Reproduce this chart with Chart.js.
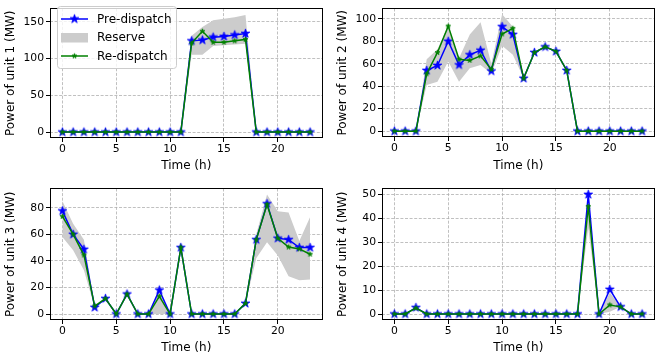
<!DOCTYPE html>
<html>
<head>
<meta charset="utf-8">
<script src="https://cdn.jsdelivr.net/npm/chart.js@4"></script>
<style>
html,body{margin:0;padding:0;background:#fff;overflow:hidden;width:655px;height:360px;}
canvas{position:absolute;}
</style>
</head>
<body>
<canvas id="c1" width="328" height="180" style="left:0;top:0;width:328px;height:180px"></canvas>
<canvas id="c2" width="332" height="180" style="left:328px;top:0;width:332px;height:180px"></canvas>
<canvas id="c3" width="328" height="180" style="left:0;top:180px;width:328px;height:180px"></canvas>
<canvas id="c4" width="332" height="180" style="left:328px;top:180px;width:332px;height:180px"></canvas>
<script>
// ---- data ----
const hours = [0,1,2,3,4,5,6,7,8,9,10,11,12,13,14,15,16,17,18,19,20,21,22,23];
const xTickValues = [0,5,10,15,20];
const seriesNames = ['Pre-dispatch','Reserve','Re-dispatch'];
const xTitle = 'Time (h)';

const unit1Pre   = [0,0,0,0,0,0,0,0,0,0,0,0,124,125,129,130,132,134,0,0,0,0,0,0];
const unit1Re    = [0,0,0,0,0,0,0,0,0,0,0,0,121,137,122,122,124,126,0,0,0,0,0,0];
const unit1ResLo = [0,0,0,0,0,0,0,0,0,0,0,0,105,105,117,118,119,120,0,0,0,0,0,0];
const unit1ResHi = [0,0,0,0,0,0,0,0,0,0,0,0,131,143,152,154,156,159,0,0,0,0,0,0];
const unit1Ticks = [0,50,100,150];

const unit2Pre   = [0,0,0,54,58.5,80,59,68,72,53.5,93,86,47,70,75,71,54,0,0,0,0,0,0,0];
const unit2Re    = [0,0,0,51,70,93.5,64,63,67,55,86.5,91.5,47,70,75,71,54,0,0,0,0,0,0,0];
const unit2ResLo = [0,0,0,41,44,62,44,56,59,51,76,68,47,70,75,71,54,0,0,0,0,0,0,0];
const unit2ResHi = [0,0,0,64,73,94,65,86,97,60,104,93,47,70,75,71,54,0,0,0,0,0,0,0];
const unit2Ticks = [0,20,40,60,80,100];

const unit3Pre   = [77.6,60,48.7,5,11.6,0,15,0,0,18,0,50,0,0,0,0,0,8,56,83,57,56,50,50];
const unit3Re    = [73.5,60,44.4,6,11.6,0,15,0,0,13.3,0,50,0,0,0,0,0,8,56,82.5,57,50.4,49,45];
const unit3ResLo = [58,48,33,5,11.6,0,15,0,0,0,0,50,0,0,0,0,0,8,42,54,44,28.4,25.5,26];
const unit3ResHi = [85,68,56,6,11.6,0,15,0,0,17,0,50,0,0,0,0,0,8,60,90,77.3,76.4,55,73];
const unit3Ticks = [0,20,40,60,80];

const unit4Pre   = [0,0,2.7,0,0,0,0,0,0,0,0,0,0,0,0,0,0,0,50,0,10.3,3,0,0];
const unit4Re    = [0,0,2.5,0,0,0,0,0,0,0,0,0,0,0,0,0,0,0,45,0,3.8,3,0,0];
const unit4ResLo = [0,0,2.5,0,0,0,0,0,0,0,0,0,0,0,0,0,0,0,36,0,1,3,0,0];
const unit4ResHi = [0,0,2.7,0,0,0,0,0,0,0,0,0,0,0,0,0,0,0,46,0,9,3,0,0];
const unit4Ticks = [0,10,20,30,40,50];

// ---- styling helpers ----
const FONT = 'DejaVu Sans';
const BLUE = '#0000ff', GREEN = '#008000', GREY = '#cccccc';

function starImage(color, r) {
  const size = Math.ceil(r * 2 + 3);
  const c = document.createElement('canvas');
  c.width = size; c.height = size;
  const ctx = c.getContext('2d');
  const cx = size / 2, cy = size / 2, ri = r * 0.382;
  ctx.beginPath();
  for (let i = 0; i < 10; i++) {
    const rad = i % 2 === 0 ? r : ri;
    const a = -Math.PI / 2 + i * Math.PI / 5;
    const px = cx + rad * Math.cos(a), py = cy + rad * Math.sin(a);
    i === 0 ? ctx.moveTo(px, py) : ctx.lineTo(px, py);
  }
  ctx.closePath();
  ctx.fillStyle = color; ctx.fill();
  ctx.strokeStyle = color; ctx.lineWidth = 0.8; ctx.stroke();
  return c;
}
const blueStar = starImage(BLUE, 4.6);
const greenStar = starImage(GREEN, 2.6);

const framePlugin = {
  id: 'frame',
  afterDraw(chart) {
    const a = chart.chartArea, ctx = chart.ctx;
    ctx.save();
    ctx.strokeStyle = '#000'; ctx.lineWidth = 1;
    ctx.strokeRect(Math.round(a.left) + 0.5, Math.round(a.top) + 0.5,
                   Math.round(a.right - a.left) - 1, Math.round(a.bottom - a.top) - 1);
    ctx.restore();
  }
};

const legendPlugin = {
  id: 'mplLegend',
  afterDraw(chart, args, opts) {
    if (!opts || !opts.show) return;
    const ctx = chart.ctx;
    ctx.save();
    const bx = 57.5, by = 6.5, bw = 119, bh = 62, r = 3;
    ctx.beginPath();
    ctx.moveTo(bx + r, by); ctx.lineTo(bx + bw - r, by); ctx.arcTo(bx + bw, by, bx + bw, by + r, r);
    ctx.lineTo(bx + bw, by + bh - r); ctx.arcTo(bx + bw, by + bh, bx + bw - r, by + bh, r);
    ctx.lineTo(bx + r, by + bh); ctx.arcTo(bx, by + bh, bx, by + bh - r, r);
    ctx.lineTo(bx, by + r); ctx.arcTo(bx, by, bx + r, by, r);
    ctx.closePath();
    ctx.fillStyle = 'rgba(255,255,255,0.8)'; ctx.fill();
    ctx.strokeStyle = '#cccccc'; ctx.lineWidth = 1; ctx.stroke();
    const x0 = 61, x1 = 88, xm = (x0 + x1) / 2;
    const rows = [19, 37.5, 56];
    // row 1: pre-dispatch
    ctx.strokeStyle = BLUE; ctx.lineWidth = 1.5;
    ctx.beginPath(); ctx.moveTo(x0, rows[0]); ctx.lineTo(x1, rows[0]); ctx.stroke();
    ctx.drawImage(blueStar, xm - blueStar.width / 2, rows[0] - blueStar.height / 2);
    // row 2: reserve patch
    ctx.fillStyle = GREY; ctx.fillRect(x0, rows[1] - 4.5, x1 - x0, 9.5);
    // row 3: re-dispatch
    ctx.strokeStyle = GREEN; ctx.lineWidth = 1.5;
    ctx.beginPath(); ctx.moveTo(x0, rows[2]); ctx.lineTo(x1, rows[2]); ctx.stroke();
    ctx.drawImage(greenStar, xm - greenStar.width / 2, rows[2] - greenStar.height / 2);
    ctx.fillStyle = '#000'; ctx.font = '12px "' + FONT + '"'; ctx.textBaseline = 'middle';
    seriesNames.forEach((t, i) => ctx.fillText(t, 97, rows[i] + 0.5));
    ctx.restore();
  }
};

function pts(arr) { return hours.map((h, i) => ({ x: h, y: arr[i] })); }

function makeChart(id, pre, re, lo, hi, yRange, yTicks, yTitle, lay, showLegend) {
  const tickFont = { family: FONT, size: 10.8 };
  const titleFont = { family: FONT, size: 12 };
  const gridCommon = { color: '#b0b0b0', lineWidth: 0.8, tickLength: 4, tickColor: '#000', tickWidth: 1 };
  return new Chart(document.getElementById(id), {
    type: 'line',
    data: {
      datasets: [
        { label: 'ReserveLow', data: pts(lo), borderWidth: 0, borderColor: 'rgba(0,0,0,0)', pointRadius: 0, fill: false, order: 3 },
        { label: seriesNames[1], data: pts(hi), borderWidth: 0, borderColor: 'rgba(0,0,0,0)', pointRadius: 0, fill: '-1', backgroundColor: GREY, order: 3 },
        { label: seriesNames[0], data: pts(pre), borderColor: BLUE, borderWidth: 1.5, pointStyle: blueStar, pointRadius: 4, fill: false, order: 2 },
        { label: seriesNames[2], data: pts(re), borderColor: GREEN, borderWidth: 1.5, pointStyle: greenStar, pointRadius: 3, fill: false, order: 1 }
      ]
    },
    options: {
      responsive: false, animation: false, devicePixelRatio: 1,
      layout: { padding: { left: 0, top: lay.top, right: 2, bottom: 0 } },
      elements: { line: { tension: 0 } },
      plugins: { legend: { display: false }, tooltip: { enabled: false }, mplLegend: { show: showLegend } },
      scales: {
        x: {
          type: 'linear', min: -1.15, max: 24.15,
          afterBuildTicks: s => { s.ticks = xTickValues.map(v => ({ value: v })); },
          afterFit: s => { s.height = lay.xh; },
          ticks: { font: tickFont, color: '#000', padding: 1, maxRotation: 0, autoSkip: false },
          grid: gridCommon,
          border: { display: false, dash: [3, 1.6] },
          title: { display: true, text: xTitle, font: titleFont, color: '#000', padding: { top: 0, bottom: lay.xtp } }
        },
        y: {
          type: 'linear', min: yRange[0], max: yRange[1],
          afterBuildTicks: s => { s.ticks = yTicks.map(v => ({ value: v })); },
          afterFit: s => { s.width = lay.yw; },
          ticks: { font: tickFont, color: '#000', padding: 2, autoSkip: false },
          grid: gridCommon,
          border: { display: false, dash: [3, 1.6] },
          title: { display: true, text: yTitle, font: titleFont, color: '#000', padding: { top: lay.ytp, bottom: 0 } }
        }
      }
    },
    plugins: [framePlugin, legendPlugin]
  });
}

makeChart('c1', unit1Pre, unit1Re, unit1ResLo, unit1ResHi, [-8, 168], unit1Ticks, 'Power of unit 1 (MW)',
  { top: 3, xh: 42, yw: 50, xtp: 7, ytp: 4 }, true);
makeChart('c2', unit2Pre, unit2Re, unit2ResLo, unit2ResHi, [-5.2, 109.2], unit2Ticks, 'Power of unit 2 (MW)',
  { top: 3, xh: 43, yw: 54, xtp: 7, ytp: 8 }, false);
makeChart('c3', unit3Pre, unit3Re, unit3ResLo, unit3ResHi, [-4.5, 94.5], unit3Ticks, 'Power of unit 3 (MW)',
  { top: 4, xh: 40, yw: 50, xtp: 5, ytp: 4 }, false);
makeChart('c4', unit4Pre, unit4Re, unit4ResLo, unit4ResHi, [-2.5, 52.5], unit4Ticks, 'Power of unit 4 (MW)',
  { top: 4, xh: 40, yw: 54, xtp: 5, ytp: 8 }, false);
</script>
</body>
</html>
